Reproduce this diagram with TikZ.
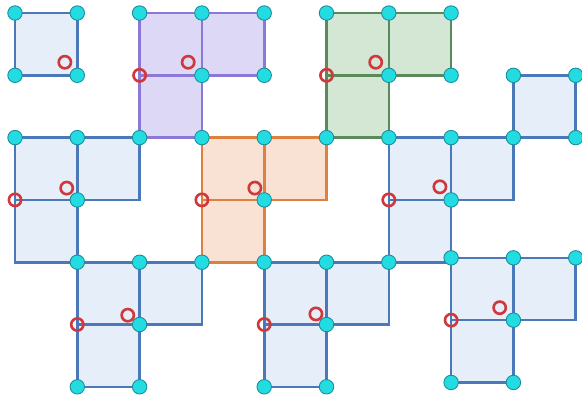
\documentclass[tikz,border=0pt]{standalone}
\usepackage{xcolor}
\usetikzlibrary{shapes.geometric}

\definecolor{blueedge}{HTML}{4A78B8}
\definecolor{bluefill}{HTML}{E6EEF9}
\definecolor{purpleedge}{HTML}{8C78D6}
\definecolor{purplefill}{HTML}{DDD8F5}
\definecolor{greenedge}{HTML}{5A8A5A}
\definecolor{greenfill}{HTML}{D4E6D4}
\definecolor{orangeedge}{HTML}{E0803E}
\definecolor{orangefill}{HTML}{F9E2D3}
\definecolor{dotcyan}{HTML}{22DCE2}
\definecolor{dotedge}{HTML}{1C8C9A}
\definecolor{ringred}{HTML}{D0383C}

\tikzset{
  bluecell/.style={draw=blueedge, fill=bluefill, line width=1.2pt},
  purplecell/.style={draw=purpleedge, fill=purplefill, line width=1.2pt},
  greencell/.style={draw=greenedge, fill=greenfill, line width=1.2pt},
  orangecell/.style={draw=orangeedge, fill=orangefill, line width=1.2pt},
  vdot/.style={circle, fill=dotcyan, draw=dotedge, line width=0.4pt, inner sep=0pt, minimum size=6.6pt},
  redring/.style={circle, draw=ringred, line width=1.2pt, inner sep=0pt, minimum size=5.6pt}
}

\begin{document}
\begin{tikzpicture}[x=1cm, y=-1cm]
        \useasboundingbox (-0.241,-0.209) rectangle (9.101,6.212);

        % Single squares
        \draw[bluecell] (0,0) rectangle (1,1);
        \draw[bluecell] (8,1) rectangle (9,2);

        % L-shaped pieces: top-left corner and style
        \foreach \a/\b/\s in {2/0/purplecell, 5/0/greencell, 0/2/bluecell, 3/2/orangecell,
                              6/2/bluecell, 1/4/bluecell, 4/4/bluecell, 7/3.93/bluecell} {
            \draw[\s] (\a,\b) rectangle ++(1,1);
            \draw[\s] (\a+1,\b) rectangle ++(1,1);
            \draw[\s] (\a,\b+1) rectangle ++(1,1);
        }

        % Cyan points
        \foreach \x in {0,...,7} \node[vdot] (d-\x-0) at (\x,0) {};
        \foreach \x in {0,1,3,4,6,7,8,9} \node[vdot] (d-\x-1) at (\x,1) {};
        \foreach \x in {0,...,9} \node[vdot] (d-\x-2) at (\x,2) {};
        \foreach \x in {1,4,7} \node[vdot] (d-\x-3) at (\x,3) {};
        \foreach \x in {1,...,6} \node[vdot] (d-\x-4) at (\x,4) {};
        \foreach \x in {7,8,9} \node[vdot] (d-\x-4) at (\x,3.93) {};
        \foreach \x in {2,5} \node[vdot] (d-\x-5) at (\x,5) {};
        \node[vdot] (d-8-5) at (8,4.93) {};
        \foreach \x in {1,2,4,5} \node[vdot] (d-\x-6) at (\x,6) {};
        \foreach \x in {7,8} \node[vdot] (d-\x-6) at (\x,5.93) {};

        % Red rings
        \node[redring] (r-0) at (0.80,0.79) {};
        \foreach \a/\b/\dx/\dy [count=\i] in {2/0/0.78/0.79, 5/0/0.79/0.79, 0/2/0.83/0.81,
                              3/2/0.85/0.81, 6/2/0.82/0.79, 1/4/0.81/0.85,
                              4/4/0.83/0.83, 7/3.93/0.78/0.80} {
            \node[redring] (r-\i-a) at (\a,\b+1) {};
            \node[redring] (r-\i-b) at (\a+\dx,\b+\dy) {};
        }

\end{tikzpicture}
\end{document}
